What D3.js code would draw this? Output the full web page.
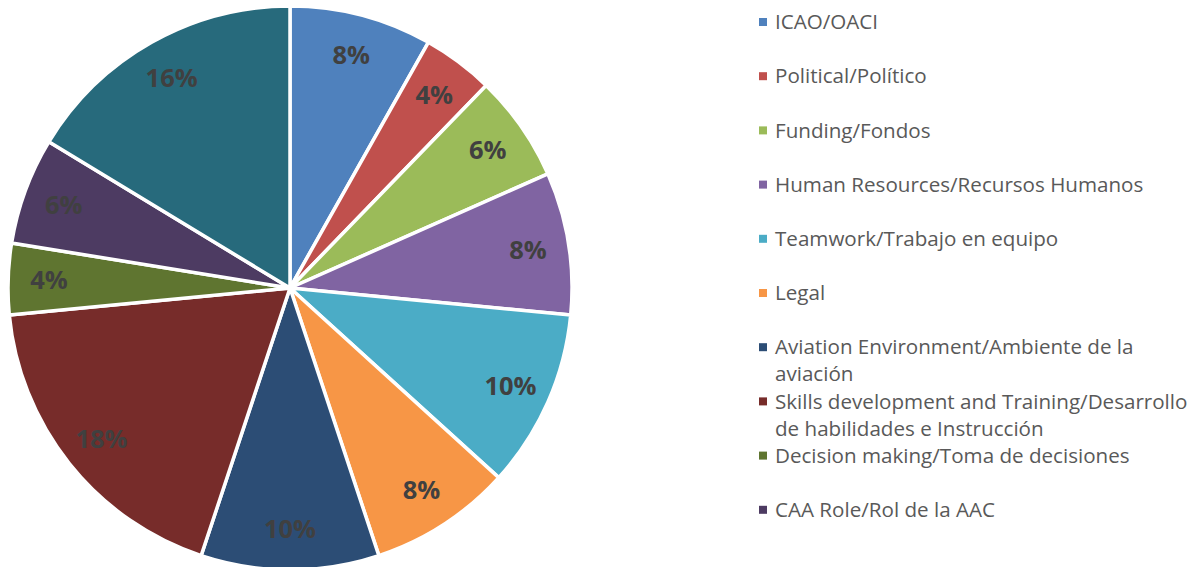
<!DOCTYPE html>
<html><head><meta charset="utf-8">
<script src="https://cdn.jsdelivr.net/npm/d3@7"></script>
<style>body{margin:0;background:#fff}svg{display:block}</style>
</head><body>
<svg id="c" width="1201" height="567"></svg>
<script>
const categories = ["ICAO/OACI","Political/Político","Funding/Fondos","Human Resources/Recursos Humanos","Teamwork/Trabajo en equipo","Legal","Aviation Environment/Ambiente de la|aviación","Skills development and Training/Desarrollo|de habilidades e Instrucción","Decision making/Toma de decisiones","CAA Role/Rol de la AAC","Other/Otros"];
const values = [4,2,3,4,5,4,5,9,2,3,8];
const colors = ["#4F81BD","#C0504D","#9BBB59","#8064A2","#4BACC6","#F79646","#2C4D75","#772C2A","#5F7530","#4D3B62","#276A7C"];

const svg = d3.select("#c");
const cx = 290, cy = 288, R = 282;
const data = categories.map((c,i)=>({name:c,value:values[i],color:colors[i]}));
const total = d3.sum(values);
const pie = d3.pie().value(d=>d.value).sort(null);
const arcs = pie(data);
const arc = d3.arc().innerRadius(0).outerRadius(R);
const labelArc = d3.arc().innerRadius(R*0.855).outerRadius(R*0.855);
const g = svg.append("g").attr("transform",`translate(${cx},${cy})`);
g.selectAll("path").data(arcs).join("path")
  .attr("d",arc).attr("fill",d=>d.data.color)
  .attr("stroke","#fff").attr("stroke-width",3.5).attr("stroke-linejoin","round");
g.selectAll("text").data(arcs).join("text")
  .attr("transform",d=>{const c=labelArc.centroid(d);return `translate(${c[0]},${c[1]})`;})
  .attr("text-anchor","middle").attr("dy","0.36em")
  .attr("font-family","'Open Sans',sans-serif").attr("font-weight","bold")
  .attr("font-size",25.5).attr("fill","#404040")
  .text(d=>d3.format(".0%")(d.data.value/total));

const lg = svg.append("g");
const rowY = d3.scaleLinear().domain([0,1]).range([22,76.2]);
data.forEach((d,i)=>{
  const y = rowY(i);
  if (y > 540) return; // rows beyond the chart frame are not visible in the reference
  lg.append("rect").attr("x",759).attr("y",y-4).attr("width",8).attr("height",8).attr("fill",d.color);
  const lines = d.name.split("|");
  lines.forEach((t,j)=>{
    lg.append("text").attr("x",775).attr("y",y+j*27).attr("dy","0.35em")
      .attr("font-family","'Open Sans',sans-serif").attr("font-size",20.6).attr("fill","#595959")
      .text(t);
  });
});
</script>
</body></html>
